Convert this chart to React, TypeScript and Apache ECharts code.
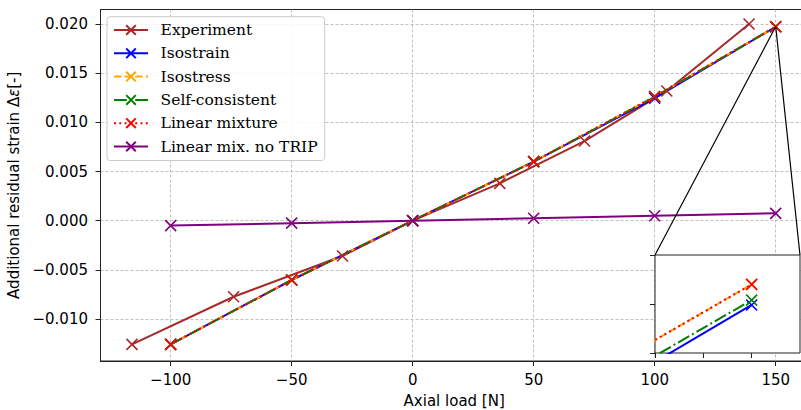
import React, { useEffect, useRef } from 'react';
import * as echarts from 'echarts';

// ---- data ----
const modelLoads = [-100, -50, 0, 50, 100, 150];
const expLoads = [-116, -74, -29, 0, 36, 71, 105, 139];
const expStrain = [-0.01257, -0.00773, -0.00359, 0, 0.0038, 0.0081, 0.01319, 0.02];
const isostrain = [-0.01257, -0.00603, 0, 0.006, 0.01246, 0.0197149];
const isostress = [-0.01257, -0.00603, 0, 0.006, 0.01262, 0.019717];
const selfConsistent = [-0.01257, -0.00603, 0, 0.006, 0.01259, 0.0197154];
const linearMixture = [-0.01257, -0.00603, 0, 0.006, 0.01262, 0.019717];
const linearNoTrip = [-0.0005, -0.00025, 0, 0.00025, 0.0005, 0.00075];

const seriesNames = ['Experiment', 'Isostrain', 'Isostress', 'Self-consistent', 'Linear mixture', 'Linear mix. no TRIP'];

const xTicks = [-100, -50, 0, 50, 100, 150];
const yTicks = [-0.01, -0.005, 0, 0.005, 0.01, 0.015, 0.02];
const xRange = [-129.0, 163.31];
const yRange = [-0.014265, 0.021474];

const insetXTicks = [149.96, 149.98, 150.0];
const insetYTicks = [0.01971, 0.019715, 0.01972];
const insetXRange = [149.96, 150.02];
const insetYRange = [0.01971, 0.01972];

// ---- layout / style ----
const MAIN = { left: 100.5, top: 9.5, width: 707.4, height: 351.5 };
const INSET = { left: 655, top: 255, width: 145, height: 98 };
const X_SYMBOL = 'path://M0,0L10,10M10,0L0,10';
const SANS = 'DejaVu Sans';
const FS = 15;

const styles: Record<string, { color: string; dash: any }> = {
  Experiment: { color: '#a52a2a', dash: 'solid' },
  Isostrain: { color: '#0000ff', dash: 'solid' },
  Isostress: { color: '#ffa500', dash: [7.4, 3.2] },
  'Self-consistent': { color: '#008000', dash: [12.8, 3.2, 2, 3.2] },
  'Linear mixture': { color: '#ff0000', dash: [2, 3.3] },
  'Linear mix. no TRIP': { color: '#800080', dash: 'solid' },
};

const minusFmt = (v: number, d: number) => (v < -1e-12 ? '\u2212' : '') + Math.abs(v).toFixed(d);

function makeSeries(name: string, xs: number[], ys: number[], inset: boolean) {
  const s = styles[name];
  return {
    type: 'line',
    name,
    data: xs.map((x, i) => [x, ys[i]]),
    xAxisIndex: inset ? 1 : 0,
    yAxisIndex: inset ? 1 : 0,
    symbol: X_SYMBOL,
    symbolSize: 11,
    showSymbol: true,
    showAllSymbol: true,
    clip: inset,
    z: inset ? 10 : 2,
    silent: true,
    lineStyle: { color: s.color, width: 2, type: s.dash, cap: 'butt' },
    itemStyle: { color: s.color, borderColor: s.color, borderWidth: 1.6 },
    emphasis: { disabled: true },
  };
}

const seriesData: [string, number[], number[]][] = [
  ['Experiment', expLoads, expStrain],
  ['Isostrain', modelLoads, isostrain],
  ['Isostress', modelLoads, isostress],
  ['Self-consistent', modelLoads, selfConsistent],
  ['Linear mixture', modelLoads, linearMixture],
  ['Linear mix. no TRIP', modelLoads, linearNoTrip],
];

export default function App() {
  const ref = useRef<HTMLDivElement>(null);
  useEffect(() => {
    if (!ref.current) return;
    const chart = echarts.init(ref.current, undefined, { renderer: 'svg' });
    const gridLine = { show: true, lineStyle: { color: '#b0b0b0', width: 0.8, type: [3, 2] } };
    const insetRect = {
      id: 'insetBg', type: 'rect', z: 5,
      shape: { x: INSET.left, y: INSET.top, width: INSET.width, height: INSET.height },
      style: { fill: '#ffffff', stroke: '#222', lineWidth: 1 },
    };
    const option: any = {
      animation: false,
      backgroundColor: '#ffffff',
      grid: [
        { ...MAIN, show: true, borderColor: '#222', borderWidth: 1, backgroundColor: 'transparent', containLabel: false, outerBoundsMode: 'none' },
        { ...INSET, show: false, containLabel: false, outerBoundsMode: 'none' },
      ],
      xAxis: [
        {
          type: 'value', gridIndex: 0, min: xRange[0], max: xRange[1],
          name: 'Axial load [N]', nameLocation: 'middle', nameGap: 32.5,
          nameTextStyle: { fontFamily: SANS, fontSize: FS, color: '#000' },
          axisLine: { show: true, onZero: false, lineStyle: { color: '#222', width: 1 } },
          axisTick: { show: true, inside: false, length: 5, customValues: xTicks, lineStyle: { color: '#222', width: 1 } },
          axisLabel: { customValues: xTicks, margin: 11, fontFamily: SANS, fontSize: FS, color: '#000', formatter: (v: number) => minusFmt(v, 0) },
          splitLine: gridLine,
        },
        {
          type: 'value', gridIndex: 1, min: insetXRange[0], max: insetXRange[1], z: 10,
          axisLine: { show: false },
          axisTick: { show: true, inside: false, length: 5, customValues: insetXTicks, lineStyle: { color: '#222', width: 1 } },
          axisLabel: { show: false, customValues: insetXTicks },
          splitLine: { show: false },
        },
      ],
      yAxis: [
        {
          type: 'value', gridIndex: 0, min: yRange[0], max: yRange[1],
          name: 'Additional residual strain \u0394{e|\u03b5}[-]', nameLocation: 'middle', nameGap: 79,
          nameTextStyle: { fontFamily: SANS, fontSize: FS, color: '#000', rich: { e: { fontFamily: SANS, fontSize: FS, fontStyle: 'italic', color: '#000' } } },
          axisLine: { show: true, onZero: false, lineStyle: { color: '#222', width: 1 } },
          axisTick: { show: true, inside: false, length: 5, customValues: yTicks, lineStyle: { color: '#222', width: 1 } },
          axisLabel: { customValues: yTicks, margin: 12.5, fontFamily: SANS, fontSize: FS, color: '#000', formatter: (v: number) => minusFmt(v, 3) },
          splitLine: gridLine,
        },
        {
          type: 'value', gridIndex: 1, min: insetYRange[0], max: insetYRange[1], z: 10,
          axisLine: { show: false },
          axisTick: { show: true, inside: false, length: 5, customValues: insetYTicks, lineStyle: { color: '#222', width: 1 } },
          axisLabel: { show: false, customValues: insetYTicks },
          splitLine: { show: false },
        },
      ],
      legend: {
        data: seriesNames,
        orient: 'vertical',
        left: 107, top: 16.7,
        itemWidth: 34, itemHeight: 12, itemGap: 7.3,
        padding: [5.3, 7, 6, 6],
        backgroundColor: 'rgba(255,255,255,0.85)',
        borderColor: '#cccccc', borderWidth: 1, borderRadius: 3,
        selectedMode: false,
        textStyle: { fontFamily: 'DejaVu Serif', fontSize: 15.5, color: '#000', lineHeight: 16, padding: [0, 0, 0, 7.6] },
      },
      series: [
        ...seriesData.map(([n, xs, ys]) => makeSeries(n, xs, ys, false)),
        ...seriesData.map(([n, xs, ys]) => makeSeries(n, xs, ys, true)),
      ],
      graphic: [insetRect],
    };
    chart.setOption(option);

    // connector lines from zoomed region (main axes) to inset corners
    const a1 = chart.convertToPixel({ xAxisIndex: 0, yAxisIndex: 0 } as any, [insetXRange[0], insetYRange[1]]) as number[];
    const a2 = chart.convertToPixel({ xAxisIndex: 0, yAxisIndex: 0 } as any, [insetXRange[1], insetYRange[1]]) as number[];
    const b1 = chart.convertToPixel({ xAxisIndex: 1, yAxisIndex: 1 } as any, [insetXRange[0], insetYRange[1]]) as number[];
    const b2 = chart.convertToPixel({ xAxisIndex: 1, yAxisIndex: 1 } as any, [insetXRange[1], insetYRange[1]]) as number[];
    if (a1 && b1 && a2 && b2) {
      chart.setOption({
        graphic: [
          insetRect,
          { id: 'c1', type: 'line', z: 6, shape: { x1: a1[0], y1: a1[1], x2: b1[0], y2: b1[1] }, style: { stroke: '#000', lineWidth: 1.2 } },
          { id: 'c2', type: 'line', z: 6, shape: { x1: a2[0], y1: a2[1], x2: b2[0], y2: b2[1] }, style: { stroke: '#000', lineWidth: 1.2 } },
        ],
      });
    }
    return () => chart.dispose();
  }, []);
  return (
    <div style={{ position: 'fixed', left: 0, top: 0, width: 801, height: 410, overflow: 'hidden', background: '#fff' }}>
      <div ref={ref} style={{ width: 812, height: 410 }} />
    </div>
  );
}
